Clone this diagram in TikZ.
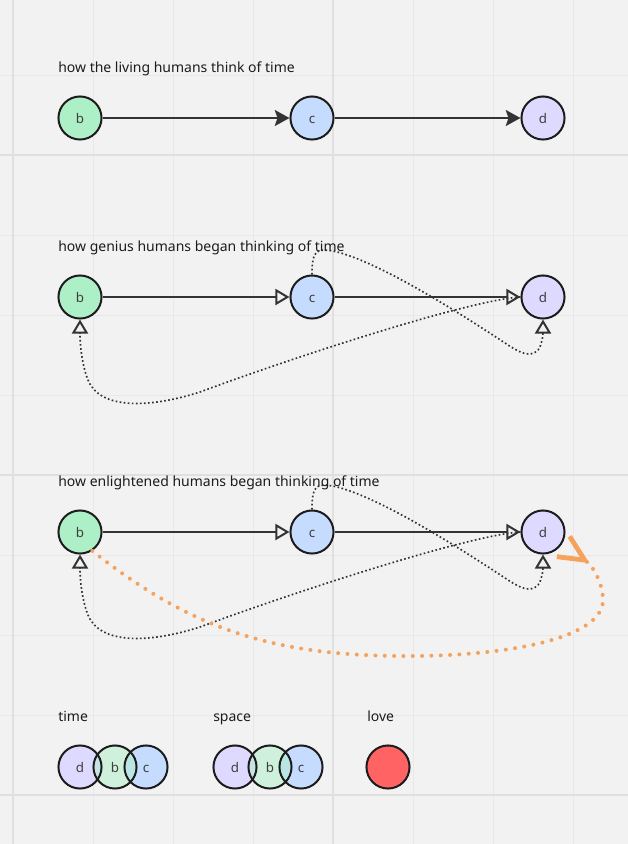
\documentclass[tikz,border=0pt]{standalone}
\usepackage{fontspec}
\setmainfont{Noto Sans}
\usetikzlibrary{arrows.meta}
\definecolor{bgc}{HTML}{F2F2F2}
\definecolor{gridminor}{HTML}{E8E8E8}
\definecolor{gridmajor}{HTML}{E0E0E0}
\definecolor{ink}{HTML}{1C1C1C}
\definecolor{linec}{HTML}{333333}
\definecolor{greenf}{HTML}{ADEFC6}
\definecolor{bluef}{HTML}{C6DCFF}
\definecolor{lavf}{HTML}{DEDAFF}
\definecolor{redf}{HTML}{FF6363}
\definecolor{orangec}{HTML}{F5A25D}
\tikzset{
  ball/.style={circle, draw=ink, line width=1.5pt, minimum size=32.3pt, inner sep=0pt,
    font=\fontsize{10}{12}\selectfont, text=ink!85, text height=7.5pt, text depth=0pt},
  legendball/.style={circle, minimum size=32.3pt, inner sep=0pt,
    font=\fontsize{10}{12}\selectfont, text=ink!85, text height=7.5pt, text depth=0pt},
  ring/.style={draw=ink, line width=1.5pt},
  title/.style={anchor=base west, inner sep=0pt, font=\fontsize{10.5}{12}\selectfont, text=ink},
  solidlink/.style={draw=linec, line width=1.5pt},
  filledhead/.style={-{Stealth[length=11pt,width=12pt,inset=2pt]}},
  openhead/.style={-{Triangle[length=10.5pt,width=12pt,fill=bgc,line width=1.5pt]}},
  dotlink/.style={draw=linec, line width=1.25pt, dash pattern=on 1.25pt off 1.8pt},
  orangelink/.style={draw=orangec, line width=3pt, line cap=round, dash pattern=on 0pt off 7pt},
  orangehead/.style={-{Straight Barb[reversed,length=19pt,width=18pt,line width=3.6pt]}},
  gridthin/.style={draw=gridminor, line width=0.75pt},
  gridthick/.style={draw=gridmajor, line width=1pt},
}
\begin{document}
\begin{tikzpicture}[x=0.75pt,y=0.75pt]
\useasboundingbox (0,0) rectangle (628,-844);
\fill[bgc] (0,0) rectangle (628,-844);
% grid
\foreach \gx in {93,173,253,413,493,573} \draw[gridthin] (\gx,0) -- (\gx,-844);
\foreach \gy in {75,235,315,395,555,635,715} \draw[gridthin] (0,-\gy) -- (628,-\gy);
\foreach \gx in {13,333} \draw[gridthick] (\gx,0) -- (\gx,-844);
\foreach \gy in {155,475,795} \draw[gridthick] (0,-\gy) -- (628,-\gy);

% titles
\node[title] (t1) at (58,-72) {how the living humans think of time};
\node[title] (t2) at (58,-251) {how genius humans began thinking of time};
\node[title] (t3) at (58,-486) {how enlightened humans began thinking of time};
\node[title] (lt) at (58,-721) {time};
\node[title] (ls) at (213,-721) {space};
\node[title] (ll) at (367,-721) {love};

% row 1
\node[ball, fill=greenf] (b1) at (80,-118) {b};
\node[ball, fill=bluef] (c1) at (312,-118) {c};
\node[ball, fill=lavf] (d1) at (543,-118) {d};
\draw[solidlink, filledhead] (b1) -- (c1);
\draw[solidlink, filledhead] (c1) -- (d1);

% row 2
\node[ball, fill=greenf] (b2) at (80,-297) {b};
\node[ball, fill=bluef] (c2) at (312,-297) {c};
\node[ball, fill=lavf] (d2) at (543,-297) {d};
\draw[solidlink, openhead] (b2) -- (c2);
\draw[solidlink, openhead] (c2) -- (d2);
\draw[dotlink, openhead] (c2.north) .. controls (312,-248) and (318,-249) .. (333,-251)
  .. controls (380,-261) and (470,-320) .. (505,-343)
  .. controls (520,-353) and (530,-358) .. (538,-350)
  .. controls (542,-345) and (543,-335) .. (d2.south);
\draw[dotlink, openhead] (d2.west) .. controls (470,-300) and (300,-355) .. (200,-392)
  .. controls (150,-408) and (100,-410) .. (88,-380)
  .. controls (82,-365) and (80,-345) .. (b2.south);

% row 3
\node[ball, fill=greenf] (b3) at (80,-532) {b};
\node[ball, fill=bluef] (c3) at (312,-532) {c};
\node[ball, fill=lavf] (d3) at (543,-532) {d};
\draw[solidlink, openhead] (b3) -- (c3);
\draw[solidlink, openhead] (c3) -- (d3);
\draw[dotlink, openhead] (c3.north) .. controls (312,-483) and (318,-484) .. (333,-486)
  .. controls (380,-496) and (470,-555) .. (505,-578)
  .. controls (520,-588) and (530,-593) .. (538,-585)
  .. controls (542,-580) and (543,-570) .. (d3.south);
\draw[dotlink, openhead] (d3.west) .. controls (470,-535) and (300,-590) .. (200,-627)
  .. controls (150,-643) and (100,-645) .. (88,-615)
  .. controls (82,-600) and (80,-580) .. (b3.south);
\draw[orangelink, orangehead] (b3.-57) .. controls (190,-628) and (270,-655) .. (400,-656)
  .. controls (500,-657) and (603,-640) .. (603,-600)
  .. controls (603,-585) and (594,-566) .. (d3.-36);

% legend: time
\node[legendball, fill=lavf] (td) at (80,-767) {d};
\node[legendball, fill=bluef] (tc) at (146,-767) {c};
\node[legendball, fill=greenf, fill opacity=0.5, text opacity=1] (tb) at (115,-767) {b};
\foreach \n in {td,tb,tc} \draw[ring] (\n.center) circle (16.15pt);
% legend: space
\node[legendball, fill=lavf] (sd) at (235,-767) {d};
\node[legendball, fill=bluef] (sc) at (301,-767) {c};
\node[legendball, fill=greenf, fill opacity=0.5, text opacity=1] (sb) at (270,-767) {b};
\foreach \n in {sd,sb,sc} \draw[ring] (\n.center) circle (16.15pt);
% legend: love
\node[ball, fill=redf] (lv) at (388,-767) {};
\end{tikzpicture}
\end{document}
